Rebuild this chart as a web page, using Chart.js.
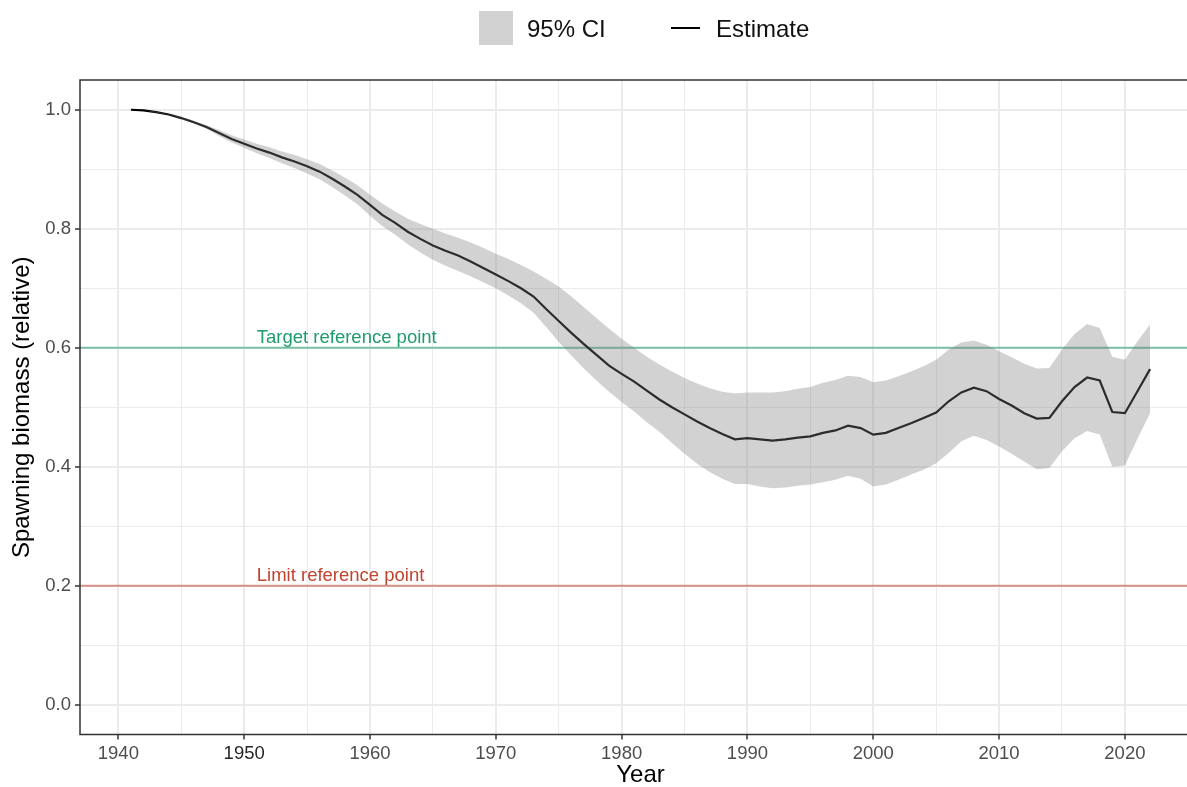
<!DOCTYPE html>
<html>
<head>
<meta charset="utf-8">
<script src="https://cdn.jsdelivr.net/npm/chart.js@4.4.1/dist/chart.umd.min.js"></script>
<style>
  html, body { margin: 0; padding: 0; background: #fff; overflow: hidden; width: 1187px; height: 787px; }
  #wrap { position: absolute; left: 0; top: 0; width: 1210px; height: 787px; }
  .legend { position: absolute; top: 0; left: 0; font-family: "Liberation Sans", Arial, sans-serif; font-size: 24px; color: #111; }
  .legend .box { position: absolute; left: 479px; top: 11px; width: 34px; height: 34px; background: #d2d2d2; }
  .legend .lbl1 { position: absolute; left: 527px; top: 15px; white-space: nowrap; }
  .legend .line { position: absolute; left: 671px; top: 27px; width: 29px; height: 2px; background: #000; }
  .legend .lbl2 { position: absolute; left: 716px; top: 15px; white-space: nowrap; }
</style>
</head>
<body>
<div id="wrap"><canvas id="biomassChart" width="1210" height="787"></canvas></div>
<div class="legend">
  <div class="box"></div><div class="lbl1">95% CI</div>
  <div class="line"></div><div class="lbl2">Estimate</div>
</div>
<script>
const years = [
  1941, 1942, 1943, 1944, 1945, 1946, 1947, 1948, 1949, 1950,
  1951, 1952, 1953, 1954, 1955, 1956, 1957, 1958, 1959, 1960,
  1961, 1962, 1963, 1964, 1965, 1966, 1967, 1968, 1969, 1970,
  1971, 1972, 1973, 1974, 1975, 1976, 1977, 1978, 1979, 1980,
  1981, 1982, 1983, 1984, 1985, 1986, 1987, 1988, 1989, 1990,
  1991, 1992, 1993, 1994, 1995, 1996, 1997, 1998, 1999, 2000,
  2001, 2002, 2003, 2004, 2005, 2006, 2007, 2008, 2009, 2010,
  2011, 2012, 2013, 2014, 2015, 2016, 2017, 2018, 2019, 2020,
  2021, 2022
];

const estimate = [
  1.000, 0.999, 0.996, 0.992, 0.986, 0.979, 0.971, 0.961, 0.951, 0.943,
  0.935, 0.928, 0.920, 0.913, 0.905, 0.896, 0.884, 0.871, 0.857, 0.840,
  0.823, 0.810, 0.795, 0.783, 0.772, 0.763, 0.755, 0.745, 0.734, 0.723,
  0.712, 0.700, 0.686, 0.665, 0.645, 0.625, 0.606, 0.588, 0.570, 0.556,
  0.543, 0.528, 0.513, 0.500, 0.488, 0.476, 0.465, 0.455, 0.446, 0.448,
  0.446, 0.444, 0.446, 0.449, 0.451, 0.457, 0.461, 0.469, 0.465, 0.454,
  0.457, 0.465, 0.473, 0.482, 0.491, 0.510, 0.525, 0.533, 0.527, 0.514,
  0.503, 0.490, 0.481, 0.482, 0.510, 0.534, 0.550, 0.545, 0.492, 0.490,
  0.527, 0.564
];

const ciUpper = [
  1.000, 0.999, 0.997, 0.993, 0.988, 0.981, 0.974, 0.966, 0.957, 0.950,
  0.943, 0.937, 0.930, 0.924, 0.917, 0.909, 0.898, 0.886, 0.873, 0.857,
  0.842, 0.829, 0.817, 0.808, 0.800, 0.792, 0.785, 0.777, 0.768, 0.758,
  0.749, 0.739, 0.728, 0.716, 0.703, 0.686, 0.668, 0.650, 0.632, 0.615,
  0.600, 0.585, 0.572, 0.560, 0.549, 0.540, 0.532, 0.526, 0.523, 0.525,
  0.525, 0.525, 0.527, 0.531, 0.534, 0.541, 0.546, 0.553, 0.551, 0.542,
  0.545, 0.552, 0.560, 0.569, 0.580, 0.597, 0.609, 0.612, 0.605, 0.594,
  0.584, 0.573, 0.565, 0.566, 0.597, 0.623, 0.640, 0.633, 0.585, 0.580,
  0.611, 0.639
];

const ciLower = [
  1.000, 0.999, 0.995, 0.991, 0.984, 0.977, 0.968, 0.956, 0.945, 0.936,
  0.927, 0.919, 0.910, 0.902, 0.893, 0.883, 0.870, 0.856, 0.841, 0.822,
  0.804, 0.790, 0.774, 0.760, 0.748, 0.738, 0.729, 0.720, 0.710, 0.700,
  0.688, 0.675, 0.659, 0.635, 0.610, 0.587, 0.565, 0.545, 0.526, 0.509,
  0.493, 0.475, 0.459, 0.440, 0.422, 0.405, 0.391, 0.380, 0.371, 0.371,
  0.367, 0.364, 0.365, 0.368, 0.370, 0.374, 0.378, 0.385, 0.380, 0.367,
  0.370, 0.378, 0.387, 0.395, 0.406, 0.423, 0.443, 0.452, 0.445, 0.434,
  0.422, 0.409, 0.396, 0.398, 0.426, 0.448, 0.460, 0.454, 0.400, 0.402,
  0.447, 0.490
];

const xMajorTicks = [1940, 1950, 1960, 1970, 1980, 1990, 2000, 2010, 2020];
const xMinorTicks = [1945, 1955, 1965, 1975, 1985, 1995, 2005, 2015, 2025];
const yMajorTicks = [0.0, 0.2, 0.4, 0.6, 0.8, 1.0];
const yMinorTicks = [0.1, 0.3, 0.5, 0.7, 0.9];

const referencePoints = [
  { label: "Target reference point", value: 0.6, text: "#1e9c6b", line: "rgba(30,156,107,0.55)" },
  { label: "Limit reference point", value: 0.2, text: "#c0452f", line: "rgba(192,69,47,0.55)" },
];
const refLabelYear = 1951;

const FONT = '"Liberation Sans", Arial, sans-serif';

function isIn(list, v) {
  return list.some((m) => Math.abs(m - v) < 1e-9);
}

const toPoints = (arr) => years.map((yr, i) => ({ x: yr, y: arr[i] }));

const refLines = {
  id: "refLines",
  beforeDatasetsDraw(chart) {
    const { ctx, chartArea, scales } = chart;
    ctx.save();
    referencePoints.forEach((r) => {
      const py = scales.y.getPixelForValue(r.value);
      ctx.strokeStyle = r.line;
      ctx.lineWidth = 2;
      ctx.beginPath();
      ctx.moveTo(chartArea.left, py);
      ctx.lineTo(chartArea.right, py);
      ctx.stroke();
      ctx.fillStyle = r.text;
      ctx.font = "18.5px " + FONT;
      ctx.textAlign = "left";
      ctx.textBaseline = "alphabetic";
      ctx.fillText(r.label, scales.x.getPixelForValue(refLabelYear), py - 5);
    });
    ctx.restore();
  },
  afterDraw(chart) {
    const { ctx, chartArea } = chart;
    ctx.save();
    ctx.strokeStyle = "#333333";
    ctx.lineWidth = 1.5;
    ctx.strokeRect(chartArea.left, chartArea.top, chartArea.right - chartArea.left, chartArea.bottom - chartArea.top);
    ctx.restore();
  },
};

const ctx = document.getElementById("biomassChart");

new Chart(ctx, {
  type: "line",
  data: {
    datasets: [
      {
        label: "lower",
        data: toPoints(ciLower),
        borderWidth: 0,
        pointRadius: 0,
        fill: false,
      },
      {
        label: "95% CI",
        data: toPoints(ciUpper),
        borderWidth: 0,
        pointRadius: 0,
        backgroundColor: "rgba(127,127,127,0.35)",
        fill: "-1",
      },
      {
        label: "Estimate",
        data: toPoints(estimate),
        borderColor: "#000000",
        borderWidth: 2.2,
        pointRadius: 0,
        fill: false,
        tension: 0,
      },
    ],
  },
  options: {
    responsive: false,
    animation: false,
    devicePixelRatio: 1,
    layout: { padding: { top: 80, right: 9, left: 0, bottom: 0 } },
    plugins: {
      legend: { display: false },
      tooltip: { enabled: false },
    },
    scales: {
      x: {
        type: "linear",
        min: 1936.95,
        max: 2026.05,
        afterBuildTicks: (scale) => {
          scale.ticks = xMajorTicks.concat(xMinorTicks).sort((a, b) => a - b).map((v) => ({ value: v }));
        },
        afterFit: (scale) => { scale.height = 52.5; },
        border: { display: false },
        grid: {
          color: "#ebebeb",
          lineWidth: (c) => (c.tick && isIn(xMajorTicks, c.tick.value) ? 2 : 1),
          tickLength: 5,
          tickColor: (c) => (c.tick && isIn(xMajorTicks, c.tick.value) ? "#333333" : "rgba(0,0,0,0)"),
          tickWidth: 1.5,
        },
        ticks: {
          autoSkip: false,
          maxRotation: 0,
          padding: 3,
          font: { family: FONT, size: 18.5 },
          color: (c) => (c.tick && c.tick.value === 1950 ? "#262626" : "#4d4d4d"),
          callback: (v) => (isIn(xMajorTicks, v) ? String(v) : ""),
        },
        title: {
          display: true,
          text: "Year",
          color: "#000000",
          font: { family: FONT, size: 24, lineHeight: 1.0 },
          padding: { top: 0, bottom: 0 },
        },
      },
      y: {
        type: "linear",
        min: -0.05,
        max: 1.05,
        afterBuildTicks: (scale) => {
          scale.ticks = yMajorTicks.concat(yMinorTicks).sort((a, b) => a - b).map((v) => ({ value: v }));
        },
        afterFit: (scale) => { scale.width = 80; },
        border: { display: false },
        grid: {
          color: "#ebebeb",
          lineWidth: (c) => (c.tick && isIn(yMajorTicks, c.tick.value) ? 2 : 1),
          tickLength: 5,
          tickColor: (c) => (c.tick && isIn(yMajorTicks, c.tick.value) ? "#333333" : "rgba(0,0,0,0)"),
          tickWidth: 1.5,
        },
        ticks: {
          autoSkip: false,
          padding: 4,
          font: { family: FONT, size: 18.5 },
          color: "#4d4d4d",
          callback: (v) => (isIn(yMajorTicks, v) ? v.toFixed(1) : ""),
        },
        title: {
          display: true,
          text: "Spawning biomass (relative)",
          color: "#000000",
          font: { family: FONT, size: 24 },
          padding: { top: 8, bottom: 0 },
        },
      },
    },
  },
  plugins: [refLines],
});
</script>
</body>
</html>
